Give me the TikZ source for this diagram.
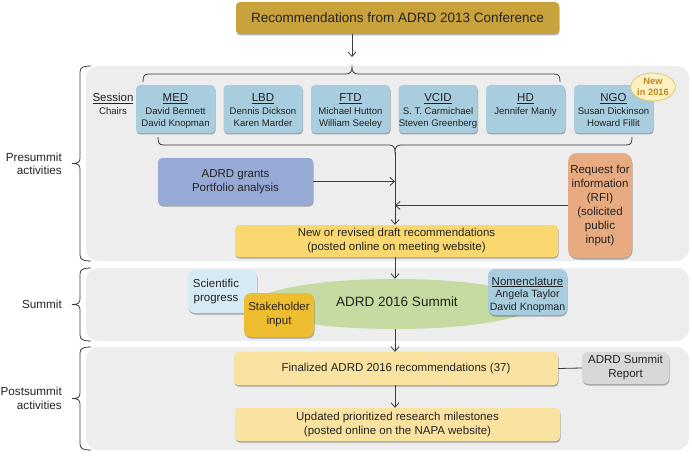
\documentclass[tikz,border=0pt]{standalone}
\usepackage{fontspec}
\setmainfont{Liberation Sans}
\usetikzlibrary{shapes.geometric,shadows,arrows.meta}
\definecolor{titlec}{RGB}{200,163,60}
\definecolor{panelc}{RGB}{237,237,237}
\definecolor{sessc}{RGB}{168,205,222}
\definecolor{grantc}{RGB}{151,170,214}
\definecolor{rfic}{RGB}{232,170,128}
\definecolor{newc}{RGB}{249,217,111}
\definecolor{lightyc}{RGB}{250,227,160}
\definecolor{ellc}{RGB}{197,219,161}
\definecolor{scic}{RGB}{214,234,243}
\definecolor{stakec}{RGB}{238,189,48}
\definecolor{repc}{RGB}{216,216,216}
\definecolor{newfill}{RGB}{253,241,193}
\definecolor{newdraw}{RGB}{230,200,110}
\definecolor{newtxt}{RGB}{185,135,35}
\definecolor{linec}{RGB}{60,60,60}
\definecolor{txtc}{RGB}{35,35,35}
\newcommand\fsz[2]{\fontsize{#1}{#2}\selectfont}
\begin{document}
\begin{tikzpicture}[x=1pt,y=-1pt,
  panel/.style={fill=panelc, rounded corners=12pt, inner sep=0pt, minimum width=603pt},
  boxs/.style={rounded corners=4pt, inner sep=0pt, align=center, text=txtc,
    drop shadow={shadow xshift=0.5pt, shadow yshift=-1.5pt, opacity=0.3, fill=black}},
  body/.style={font=\fsz{11.5}{14}},
  sess/.style={boxs, fill=sessc, minimum width=79pt, minimum height=48pt},
  hdr/.style={inner sep=0pt, anchor=base, text=txtc, font=\fsz{11.5}{13}},
  nm/.style={inner sep=0pt, anchor=base, text=txtc, font=\fsz{9.6}{12}},
  side/.style={inner sep=0pt, anchor=east, align=right, text=txtc, font=\fsz{11.7}{13.5}},
  arr/.style={draw=linec, line width=0.8pt, -{Straight Barb[length=4.5pt,width=8pt]}},
  conn/.style={draw=linec, line width=0.8pt},
  brc/.style={draw=linec, line width=0.8pt}
]
\useasboundingbox (0,0) rectangle (692,457);

% panels
\node[panel, minimum height=195pt] (pre) at (387.5,163.5) {};
\node[panel, minimum height=73pt] (sum) at (387.5,304.5) {};
\node[panel, minimum height=103pt] (post) at (387.5,398.5) {};

% side braces
\draw[brc] (91,66) .. controls (84,66) and (80,67) .. (80,72) -- (80,158) .. controls (80,162) and (78,163.5) .. (72,163.5) .. controls (78,163.5) and (80,165) .. (80,169) -- (80,255) .. controls (80,260) and (84,261) .. (91,261);
\draw[brc] (91,268) .. controls (84,268) and (80,269) .. (80,274) -- (80,299) .. controls (80,303) and (78,304.5) .. (72,304.5) .. controls (78,304.5) and (80,306) .. (80,310) -- (80,335) .. controls (80,340) and (84,341) .. (91,341);
\draw[brc] (91,347) .. controls (84,347) and (80,348) .. (80,353) -- (80,393) .. controls (80,397) and (78,398.5) .. (72,398.5) .. controls (78,398.5) and (80,400) .. (80,404) -- (80,444) .. controls (80,449) and (84,450) .. (91,450);

\node[side] (lpre) at (62,164) {Presummit\\activities};
\node[side] (lsum) at (62,304.5) {Summit};
\node[side] (lpost) at (62,398.5) {Postsummit\\activities};

% title
\node[boxs, fill=titlec, minimum width=323pt, minimum height=32pt, font=\fsz{13.5}{16}] (title) at (397.5,18) {Recommendations from ADRD 2013 Conference};
\coordinate (bt1) at (352,57);
\draw[arr] (title.south -| bt1) -- (bt1);

% upper brace
\draw[brc] (143,82) .. controls (143,76) and (144,74) .. (149,74) -- (346,74) .. controls (350,74) and (352,72) .. (352,67) .. controls (352,72) and (354,74) .. (358,74) -- (554,74) .. controls (559,74) and (560,76) .. (560,82);
% lower brace
\draw[brc] (158,137) .. controls (158,143) and (159,145) .. (164,145) -- (389,145) .. controls (393,145) and (395,147) .. (395,152) .. controls (395,147) and (397,145) .. (401,145) -- (626,145) .. controls (631,145) and (632,143) .. (632,137);

% session labels
\node[hdr] (session) at (113,102) {\underline{Session}};
\node[nm] (chairs) at (113,114.5) {Chairs};

\foreach \i/\cx/\h/\a/\b in {1/175.5/MED/David Bennett/David Knopman,
  2/263/LBD/Dennis Dickson/Karen Marder,
  3/350.5/FTD/Michael Hutton/William Seeley,
  4/438/VCID/S. T. Carmichael/Steven Greenberg,
  5/525.5/HD/Jennifer Manly/,
  6/613.5/NGO/Susan Dickinson/Howard Fillit}{
  \node[sess] (s\i) at (\cx,109) {};
  \node[hdr] (sh\i) at (\cx,102) {\underline{\h}};
  \node[nm] (sa\i) at (\cx,114.5) {\a};
  \node[nm] (sb\i) at (\cx,126.5) {\b};
}

\node[ellipse, fill=newfill, draw=newdraw, line width=0.8pt, minimum width=38pt, minimum height=28pt, inner sep=0pt, align=center, text=newtxt, font=\bfseries\fsz{9.3}{11}] (new) at (653,87) {New\\in 2016};

% presummit boxes
\node[boxs, body, fill=grantc, minimum width=155pt, minimum height=47pt] (grants) at (235.5,181.5) {ADRD grants\\Portfolio analysis};
\node[boxs, body, fill=rfic, minimum width=64pt, minimum height=105pt, rounded corners=9pt] (rfi) at (600,205.5) {Request for\\information\\(RFI)\\(solicited\\public\\input)};
\node[boxs, body, fill=newc, minimum width=323pt, minimum height=32pt] (newrev) at (396.5,241) {New or revised draft recommendations\\(posted online on meeting website)};

\coordinate (lbt) at (395,152);
\draw[arr] (lbt) -- (lbt |- newrev.north);
\draw[arr] (grants.east) -- (grants.east -| lbt);
\draw[arr] (rfi.west) -- (rfi.west -| lbt);

% summit
\node[ellipse, fill=ellc, minimum width=280pt, minimum height=50pt, inner sep=0pt] (summit) at (395,304) {};
\node[inner sep=0pt, text=txtc, font=\fsz{13.5}{16}] (summitt) at (397,302) {ADRD 2016 Summit};
\node[boxs, fill=scic, minimum width=69pt, minimum height=43pt, rounded corners=7pt] (sci) at (222.5,291.5) {};
\node[inner sep=0pt, align=center, text=txtc, font=\fsz{11.5}{14}] (scit) at (216,292) {Scientific\\progress};
\node[boxs, body, fill=stakec, minimum width=70pt, minimum height=44pt, rounded corners=7pt] (stake) at (279,315) {Stakeholder\\input};
\node[boxs, fill=sessc, minimum width=79pt, minimum height=46pt, rounded corners=7pt] (nomen) at (527.5,292) {};
\node[hdr] (nomh) at (527.5,285) {\underline{Nomenclature}};
\node[nm, font=\fsz{10.6}{12}] (noma) at (527.5,297) {Angela Taylor};
\node[nm, font=\fsz{10.6}{12}] (nomb) at (527.5,310) {David Knopman};

\draw[arr] (newrev.south -| lbt) -- (summit.north -| lbt);

% postsummit
\node[boxs, body, fill=lightyc, minimum width=324pt, minimum height=33pt] (final) at (396,368.5) {Finalized ADRD 2016 recommendations (37)};
\node[boxs, body, fill=repc, minimum width=87pt, minimum height=32pt, rounded corners=6pt] (report) at (625.5,368) {ADRD Summit\\Report};
\node[boxs, body, fill=lightyc, minimum width=325pt, minimum height=33pt] (upd) at (397.5,424.5) {Updated prioritized research milestones\\(posted online on the NAPA website)};

\draw[arr] (summit.south -| lbt) -- (final.north -| lbt);
\draw[conn] (final.east) -- (report.west);
\draw[arr] (final.south -| lbt) -- (upd.north -| lbt);
\end{tikzpicture}
\end{document}
